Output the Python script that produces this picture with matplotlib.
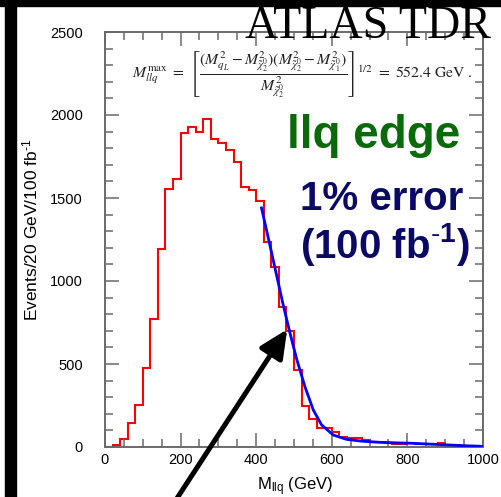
import numpy as np
import matplotlib
matplotlib.use("Agg")
import matplotlib.pyplot as plt
from matplotlib.patches import Rectangle
from matplotlib.ticker import MultipleLocator

# ---------------- data ----------------
bin_edges = list(range(0, 1001, 20))
counts = [3, 15, 50, 143, 253, 478, 771, 1191, 1552, 1616,
          1890, 1930, 1896, 1976, 1855, 1829, 1789, 1719, 1564, 1548,
          1482, 1235, 1084, 842, 699, 462, 247, 170, 112, 112,
          92, 62, 52, 52, 42, 32, 30, 26, 18, 18,
          22, 20, 18, 16, 24, 10, 10, 6, 5, 3]
fit_x = [414, 430, 450, 470, 489, 507, 529, 551, 573, 604, 639, 680, 728, 816, 948, 1000]
fit_y = [1440, 1280, 1075, 870, 690, 530, 363, 223, 133, 72, 46, 35, 28, 22, 8, 4]
xticks = [0, 200, 400, 600, 800, 1000]
yticks = [0, 500, 1000, 1500, 2000, 2500]
arrow_tip = (482, 709)
arrow_tail = (179, -349)

plt.rcParams['mathtext.fontset'] = 'custom'
plt.rcParams['mathtext.rm'] = 'Liberation Sans'
plt.rcParams['mathtext.it'] = 'Liberation Sans:italic'
plt.rcParams['mathtext.bf'] = 'Liberation Sans:bold'
plt.rcParams['font.family'] = ['Liberation Sans', 'DejaVu Sans']

W, H = 502, 497
fig = plt.figure(figsize=(W / 100, H / 100), dpi=100)
ax = fig.add_axes([105 / W, 1 - 447 / H, 378 / W, 415 / H])

frame_c = '#6a6a6a'
ax.stairs(counts, bin_edges, color='red', lw=1.5)
ax.plot(fit_x, fit_y, color='blue', lw=2.0, zorder=3)

ax.set_xlim(0, 1000)
ax.set_ylim(0, 2500)
ax.set_xticks(xticks)
ax.set_yticks(yticks)
ax.xaxis.set_minor_locator(MultipleLocator(50))
ax.yaxis.set_minor_locator(MultipleLocator(100))
for s in ax.spines.values():
    s.set_color(frame_c)
    s.set_linewidth(1.4)
ax.tick_params(which='both', direction='in', top=True, right=True,
               color=frame_c, width=1.1, labelsize=10.5)
ax.tick_params(which='major', length=10)
ax.tick_params(which='minor', length=5.5)
ax.tick_params(axis='y', which='major', pad=16)
ax.tick_params(axis='x', which='major', pad=4)

ax.set_ylabel(r'Events/20 GeV/100 fb$^{\mathrm{\text{-}1}}$', fontsize=12.5)
ax.yaxis.set_label_coords(-0.172, 0.523)
ax.set_xlabel(r'M$_{\mathrm{llq}}$ (GeV)', fontsize=12, va='top')
ax.xaxis.set_label_coords(0.503, -0.068)

# formula
formula = (r'$M_{llq}^{\mathrm{max}}\ =\ \left[\dfrac{(M_{q_L}^2 - M_{\tilde{\chi}_2^0}^2)'
           r'(M_{\tilde{\chi}_2^0}^2 - M_{\tilde{\chi}_1^0}^2)}{M_{\tilde{\chi}_2^0}^2}\right]^{1/2}'
           r'\ =\ 552.4\ \mathrm{GeV}\ .$')
fig.text(132 / W, 1 - 75 / H, formula, fontsize=11.3, math_fontfamily='stix',
         ha='left', va='center', color='#222222')

fig.text(245 / W, 1 - 38 / H, 'ATLAS TDR', fontsize=33, family='Liberation Serif',
         ha='left', va='baseline', color='black')

fig.text(374 / W, 1 - 148 / H, 'llq edge', fontsize=33, fontweight='bold',
         color='#086a08', ha='center', va='baseline')
fig.text(382 / W, 1 - 210 / H, '1% error', fontsize=29, fontweight='bold',
         color='#0a0a66', ha='center', va='baseline')
fig.text(385 / W, 1 - 258 / H, r'(100 fb$^{\mathbf{\text{-}1}}$)', fontsize=29,
         fontweight='bold', color='#0a0a66', ha='center', va='baseline')

ax.annotate('', xy=arrow_tip, xytext=arrow_tail, annotation_clip=False,
            arrowprops=dict(arrowstyle='-|>,head_length=0.85,head_width=0.4',
                            lw=3.6, color='black', mutation_scale=20,
                            shrinkA=0, shrinkB=0), zorder=5)

fig.patches.append(Rectangle((0, 1 - 6 / H), 1, 6 / H, transform=fig.transFigure,
                             color='black', zorder=10))
fig.patches.append(Rectangle((5 / W, 0), 11 / W, 1, transform=fig.transFigure,
                             color='black', zorder=10))

fig.savefig('out.png', dpi=100)
